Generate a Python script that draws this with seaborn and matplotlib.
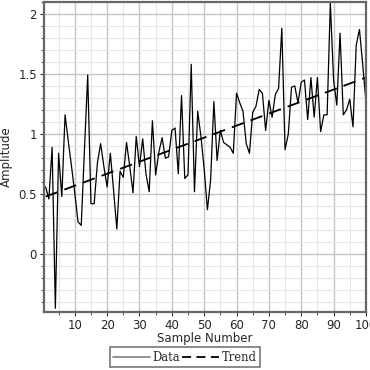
import numpy as np
import pandas as pd
import seaborn as sns
import matplotlib.pyplot as plt
from matplotlib.lines import Line2D
from matplotlib.ticker import MultipleLocator

# data
sample = list(range(1, 101))
amplitude = [
    0.56, 0.46, 0.89, -0.45, 0.84, 0.48, 1.16, 0.94, 0.73, 0.51,
    0.27, 0.24, 0.87, 1.49, 0.42, 0.42, 0.76, 0.92, 0.73, 0.56,
    0.84, 0.53, 0.21, 0.69, 0.64, 0.93, 0.73, 0.51, 0.98, 0.73,
    0.96, 0.67, 0.52, 1.11, 0.66, 0.85, 0.97, 0.80, 0.81, 1.03,
    1.05, 0.67, 1.32, 0.63, 0.66, 1.58, 0.52, 1.19, 0.98, 0.71,
    0.37, 0.62, 1.27, 0.78, 1.03, 0.93, 0.91, 0.89, 0.84, 1.34,
    1.26, 1.19, 0.92, 0.84, 1.18, 1.23, 1.37, 1.34, 1.03, 1.28,
    1.14, 1.33, 1.38, 1.88, 0.87, 1.00, 1.39, 1.40, 1.26, 1.43,
    1.45, 1.12, 1.47, 1.14, 1.47, 1.02, 1.16, 1.16, 2.09, 1.45,
    1.24, 1.84, 1.16, 1.20, 1.29, 1.06, 1.74, 1.87, 1.58, 1.27,
]
trend_x = [1, 100]
trend_y = [0.48, 1.47]

df = pd.DataFrame({"Sample Number": sample, "Amplitude": amplitude})
trend = pd.DataFrame({"x": trend_x, "y": trend_y})

sns.set_style("white")
plt.rcParams["font.family"] = ["DejaVu Sans"]

fig = plt.figure(figsize=(3.7, 3.7), dpi=100)
ax = fig.add_axes([0.119, 0.157, 0.870, 0.838])

sns.lineplot(data=df, x="Sample Number", y="Amplitude", color="black",
             linewidth=0.9, ax=ax)
sns.lineplot(data=trend, x="x", y="y", color="black", linewidth=1.3,
             dashes=False, ax=ax).lines[-1].set_dashes((7, 4))

ax.set_xlim(0.5, 100)
ax.set_ylim(-0.48, 2.1)
ax.xaxis.set_major_locator(MultipleLocator(10))
ax.xaxis.set_minor_locator(MultipleLocator(5))
ax.yaxis.set_major_locator(MultipleLocator(0.5))
ax.yaxis.set_minor_locator(MultipleLocator(0.1))
ax.set_yticks([0, 0.5, 1, 1.5, 2])
ax.set_yticklabels(["0", "0.5", "1", "1.5", "2"])

ax.grid(which="major", color="#c4c4c4", linewidth=1.0)
ax.grid(which="minor", color="#e6e6e6", linewidth=0.8)
ax.set_axisbelow(True)

ax.tick_params(which="major", direction="out", length=3, width=0.8,
               color="#333333", labelsize=8.5, pad=2, bottom=True, left=True)
ax.tick_params(which="minor", direction="out", length=2, width=0.6,
               color="#333333", bottom=True, left=True)

for spine in ax.spines.values():
    spine.set_edgecolor("#666666")
    spine.set_linewidth(1.6)

ax.set_xlabel("Sample Number", fontsize=8.5, labelpad=0)
ax.set_ylabel("Amplitude", fontsize=8.5, labelpad=4)

handles = [
    Line2D([], [], color="#808080", linewidth=1.2),
    Line2D([], [], color="black", linewidth=1.3, dashes=(5, 3)),
]
leg = fig.legend(handles, ["Data", "Trend"], loc="center",
                 bbox_to_anchor=(0.5, 0.034), ncol=2, frameon=True,
                 fancybox=False, prop={"family": "DejaVu Serif", "size": 8.3},
                 handlelength=3.2, handletextpad=0.2, columnspacing=0.2,
                 borderpad=0.3, borderaxespad=0)
leg.get_frame().set_edgecolor("#555555")
leg.get_frame().set_linewidth(1.2)

fig.savefig("out.png", dpi=100)
